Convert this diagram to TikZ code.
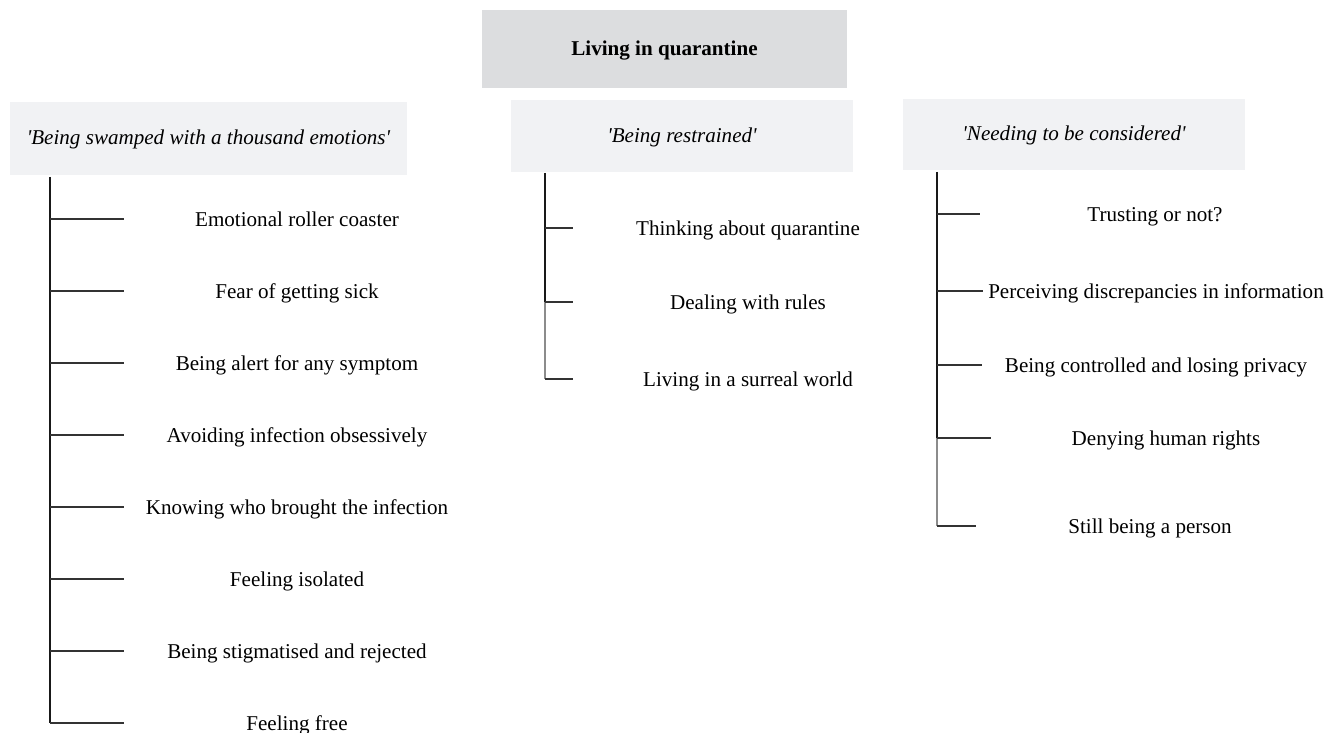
\documentclass[tikz,border=0pt]{standalone}
\usepackage{fontspec}
\setmainfont{Liberation Serif}
\definecolor{coregray}{HTML}{DCDDDF}
\definecolor{themegray}{HTML}{F1F2F4}
\newcommand{\labelsize}{\fontsize{12}{14}\selectfont}
\tikzset{
  rootbox/.style={fill=coregray, inner sep=0pt, text height=0.7em, text depth=0pt, minimum width=7.3cm, minimum height=1.56cm, font=\labelsize\bfseries},
  themebox/.style={fill=themegray, inner sep=0pt, text height=0.7em, text depth=0pt, minimum height=1.44cm, font=\labelsize\itshape},
  leaf/.style={anchor=base, inner sep=0pt, font=\labelsize},
  spine/.style={line width=1.1pt, black!90},
  spinelight/.style={line width=0.8pt, black!45},
  twig/.style={line width=0.6pt, black!80},
}

\begin{document}
\begin{tikzpicture}[x=0.02cm, y=-0.02cm]
    \useasboundingbox (0,0) rectangle (1329,733);
    % Core category
    \node[rootbox] (core) at (664.5,49) {Living in quarantine};
    % Themes
    \node[themebox, minimum width=7.94cm, minimum height=1.46cm] (swamped) at (208.5,138.5) {\textquotesingle Being swamped with a thousand emotions\textquotesingle};
    \node[themebox, minimum width=6.84cm] (restrained) at (682,136) {\textquotesingle Being restrained\textquotesingle};
    \node[themebox, minimum width=6.84cm, minimum height=1.42cm] (considered) at (1074,134.5) {\textquotesingle Needing to be considered\textquotesingle};

    % Subthemes of 'Being swamped with a thousand emotions'
    \coordinate (s1) at (50,177);
    \coordinate (roller-in) at (124,219);
    \coordinate (sick-in) at (124,291);
    \coordinate (alert-in) at (124,363);
    \coordinate (avoid-in) at (124,435);
    \coordinate (who-in) at (124,507);
    \coordinate (isolated-in) at (124,579);
    \coordinate (stigma-in) at (124,651);
    \coordinate (free-in) at (124,723);
    \node[leaf] (roller) at (297,226.5) {Emotional roller coaster};
    \node[leaf] (sick) at (297,298.5) {Fear of getting sick};
    \node[leaf] (alert) at (297,370.5) {Being alert for any symptom};
    \node[leaf] (avoid) at (297,442.5) {Avoiding infection obsessively};
    \node[leaf] (who) at (297,514.5) {Knowing who brought the infection};
    \node[leaf] (isolated) at (297,586.5) {Feeling isolated};
    \node[leaf] (stigma) at (297,658.5) {Being stigmatised and rejected};
    \node[leaf] (free) at (297,730.5) {Feeling free};
    \draw[spine] (s1) -- (free-in -| s1);
    \draw[twig] (roller-in -| s1) -- (roller-in);
    \draw[twig] (sick-in -| s1) -- (sick-in);
    \draw[twig] (alert-in -| s1) -- (alert-in);
    \draw[twig] (avoid-in -| s1) -- (avoid-in);
    \draw[twig] (who-in -| s1) -- (who-in);
    \draw[twig] (isolated-in -| s1) -- (isolated-in);
    \draw[twig] (stigma-in -| s1) -- (stigma-in);
    \draw[twig] (free-in -| s1) -- (free-in);

    % Subthemes of 'Being restrained'
    \coordinate (s2) at (545,173);
    \coordinate (thinking-in) at (573,228);
    \coordinate (rules-in) at (573,302);
    \coordinate (surreal-in) at (573,379);
    \node[leaf] (thinking) at (748,235.5) {Thinking about quarantine};
    \node[leaf] (rules) at (748,309.5) {Dealing with rules};
    \node[leaf] (surreal) at (748,386.5) {Living in a surreal world};
    \draw[spine] (s2) -- (rules-in -| s2);
    \draw[spinelight] (rules-in -| s2) -- (surreal-in -| s2);
    \draw[twig] (thinking-in -| s2) -- (thinking-in);
    \draw[twig] (rules-in -| s2) -- (rules-in);
    \draw[twig] (surreal-in -| s2) -- (surreal-in);

    % Subthemes of 'Needing to be considered'
    \coordinate (s3) at (937,172);
    \coordinate (trust-in) at (980,214);
    \coordinate (discrep-in) at (983,291);
    \coordinate (privacy-in) at (982,365);
    \coordinate (rights-in) at (991,438);
    \coordinate (person-in) at (976,526);
    \node[leaf] (trust) at (1155,221.5) {Trusting or not?};
    \node[leaf] (discrep) at (1156,298.5) {Perceiving discrepancies in information};
    \node[leaf] (privacy) at (1156,372.5) {Being controlled and losing privacy};
    \node[leaf] (rights) at (1166,445.5) {Denying human rights};
    \node[leaf] (person) at (1150,533.5) {Still being a person};
    \draw[spine] (s3) -- (rights-in -| s3);
    \draw[spinelight] (rights-in -| s3) -- (person-in -| s3);
    \draw[twig] (trust-in -| s3) -- (trust-in);
    \draw[twig] (discrep-in -| s3) -- (discrep-in);
    \draw[twig] (privacy-in -| s3) -- (privacy-in);
    \draw[twig] (rights-in -| s3) -- (rights-in);
    \draw[twig] (person-in -| s3) -- (person-in);
\end{tikzpicture}
\end{document}
